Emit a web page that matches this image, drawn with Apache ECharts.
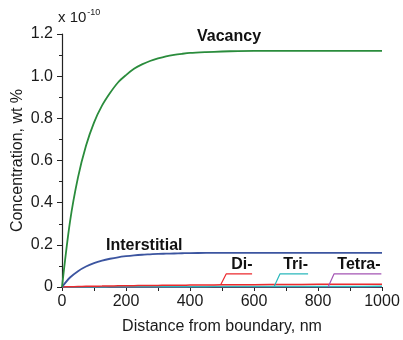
<!DOCTYPE html>
<html>
<head>
<meta charset="utf-8">
<script src="https://cdn.jsdelivr.net/npm/echarts@6/dist/echarts.min.js"></script>
<style>
html,body{margin:0;padding:0;background:#fff;}
#chart{width:403px;height:340px;}
</style>
</head>
<body>
<div id="chart"></div>
<script>
// Distance from boundary (nm) and concentrations (x 1e-10 wt %)
const distance = [0, 25, 50, 75, 100, 125, 150, 175, 200, 225, 250, 275, 300, 325, 350, 375, 400, 450, 500, 550, 600, 700, 800, 900, 1000];
const vacancy = [0, 0.31, 0.52, 0.67, 0.78, 0.86, 0.92, 0.97, 1.005, 1.035, 1.056, 1.072, 1.084, 1.094, 1.101, 1.106, 1.11, 1.114, 1.117, 1.119, 1.12, 1.12, 1.12, 1.12, 1.12];
const interstitial = [0, 0.045, 0.075, 0.097, 0.113, 0.125, 0.134, 0.141, 0.146, 0.15, 0.153, 0.155, 0.157, 0.158, 0.159, 0.16, 0.161, 0.1615, 0.162, 0.162, 0.162, 0.162, 0.162, 0.162, 0.162];
const diCluster = [0, 0.0012, 0.0022, 0.003, 0.0037, 0.0043, 0.0049, 0.0054, 0.0059, 0.0063, 0.0068, 0.0072, 0.0076, 0.008, 0.0084, 0.0087, 0.009, 0.0096, 0.0102, 0.0107, 0.0112, 0.012, 0.0126, 0.013, 0.0133];
const triCluster = [0, 0.0001, 0.0002, 0.0003, 0.0004, 0.0005, 0.0006, 0.0007, 0.0008, 0.0009, 0.001, 0.0011, 0.0012, 0.0013, 0.0014, 0.0015, 0.0016, 0.0017, 0.0019, 0.002, 0.0022, 0.0025, 0.0027, 0.0029, 0.003];
const tetraCluster = [0, 0, 0.0001, 0.0001, 0.0001, 0.0002, 0.0002, 0.0002, 0.0003, 0.0003, 0.0003, 0.0003, 0.0004, 0.0004, 0.0005, 0.0005, 0.0006, 0.0006, 0.0007, 0.0007, 0.0008, 0.001, 0.0011, 0.0012, 0.0013];

// Callout leaders for the small cluster curves: [x, y] in data units
const diLeader = [[496, 0.0102], [513, 0.062], [594, 0.062]];
const triLeader = [[663, 0.0024], [681, 0.062], [769, 0.062]];
const tetraLeader = [[832, 0.0011], [850, 0.062], [998, 0.062]];

const xTicks = [0, 200, 400, 600, 800, 1000];
const yTicks = [0, 0.2, 0.4, 0.6, 0.8, 1.0, 1.2];

const colors = {
  vacancy: '#2a8c3c',
  interstitial: '#3c55a0',
  di: '#ec2a2e',
  tri: '#2bb8bc',
  tetra: '#a455b4'
};

function pairs(ys) { return distance.map((d, i) => [d, ys[i]]); }

const FONT = 'Liberation Sans, Arial, sans-serif';
const chart = echarts.init(document.getElementById('chart'), null, {renderer: 'canvas'});

function curve(name, ys, color, width) {
  return {
    name: name, type: 'line', data: pairs(ys), smooth: 0.3, symbol: 'none',
    lineStyle: {color: color, width: width}, z: 3, silent: true
  };
}
function leader(pts, color) {
  return {
    type: 'line', data: pts, symbol: 'none', smooth: false,
    lineStyle: {color: color, width: 1.2}, z: 4, silent: true
  };
}

chart.setOption({
  animation: false,
  grid: {left: 62, right: 21, top: 34, bottom: 53, containLabel: false, outerBoundsMode: 'none'},
  xAxis: {
    type: 'value', min: 0, max: 1000, interval: 100,
    name: 'Distance from boundary, nm', nameLocation: 'middle', nameGap: 32,
    nameMoveOverlap: false,
    nameTextStyle: {fontFamily: FONT, fontSize: 16, color: '#1a1a1a'},
    axisLine: {lineStyle: {color: '#222', width: 1.2}},
    axisTick: {length: 4, lineStyle: {color: '#222'}},
    axisLabel: {
      fontFamily: FONT, fontSize: 16, color: '#1a1a1a', margin: 7,
      formatter: v => xTicks.indexOf(v) >= 0 ? String(v) : ''
    },
    splitLine: {show: false}
  },
  yAxis: {
    type: 'value', min: 0, max: 1.2, interval: 0.2,
    name: 'Concentration, wt %', nameLocation: 'middle', nameGap: 36,
    nameMoveOverlap: false,
    nameTextStyle: {fontFamily: FONT, fontSize: 16, color: '#1a1a1a'},
    axisLine: {show: true, lineStyle: {color: '#222', width: 1.2}},
    axisTick: {show: true, length: 5, lineStyle: {color: '#222'}},
    minorTick: {show: true, splitNumber: 2, length: 3, lineStyle: {color: '#222'}},
    axisLabel: {
      fontFamily: FONT, fontSize: 16, color: '#1a1a1a', margin: 9,
      formatter: v => {
        const t = yTicks.find(k => Math.abs(k - v) < 1e-9);
        return t === 0 ? '0' : t.toFixed(1);
      }
    },
    splitLine: {show: false}
  },
  series: [
    curve('Tetra-', tetraCluster, colors.tetra, 1.5),
    curve('Tri-', triCluster, colors.tri, 1.5),
    curve('Di-', diCluster, colors.di, 1.5),
    curve('Interstitial', interstitial, colors.interstitial, 1.8),
    curve('Vacancy', vacancy, colors.vacancy, 1.8),
    leader(diLeader, colors.di),
    leader(triLeader, colors.tri),
    leader(tetraLeader, colors.tetra)
  ]
});

// Curve names and axis multiplier placed relative to data coordinates
function at(x, y) { return chart.convertToPixel({gridIndex: 0}, [x, y]); }
const bold = {fontFamily: FONT, fontSize: 16, fontWeight: 'bold', fill: '#111'};
const labels = [
  ['Vacancy', 522, 1.187],
  ['Interstitial', 257, 0.195],
  ['Di-', 562, 0.104],
  ['Tri-', 730, 0.104],
  ['Tetra-', 928, 0.104]
];
const graphics = labels.map(([txt, x, y]) => {
  const p = at(x, y);
  return {type: 'text', x: p[0], y: p[1], style: Object.assign({text: txt, textAlign: 'center', textVerticalAlign: 'middle'}, bold)};
});
graphics.push({
  type: 'text', left: 58, top: 8,
  style: {
    text: '{b|x 10}{s|-10}',
    rich: {
      b: {fontFamily: FONT, fontSize: 15, fill: '#1a1a1a', verticalAlign: 'bottom'},
      s: {fontFamily: FONT, fontSize: 9, fill: '#1a1a1a', verticalAlign: 'top', padding: [0, 0, 8, 1]}
    }
  }
});
chart.setOption({graphic: graphics});
</script>
</body>
</html>
